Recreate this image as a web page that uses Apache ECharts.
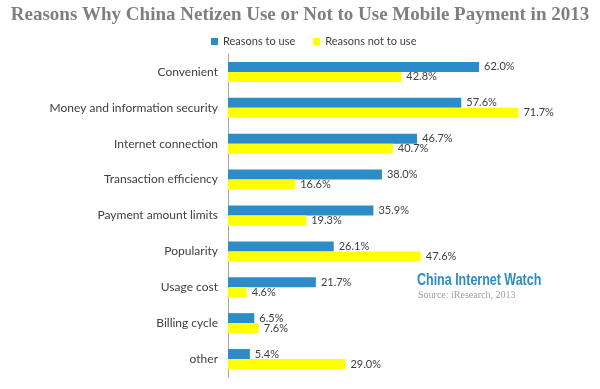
<!DOCTYPE html>
<html><head><meta charset="utf-8">
<script src="https://cdn.jsdelivr.net/npm/echarts@6/dist/echarts.min.js"></script>
<style>html,body{margin:0;padding:0;background:#fff}#c{width:600px;height:389px}</style>
</head><body><div id="c"></div>
<script>
const categories = ["Convenient","Money and information security","Internet connection","Transaction efficiency","Payment amount limits","Popularity","Usage cost","Billing cycle","other"];
const reasonsToUse = [62.0,57.6,46.7,38.0,35.9,26.1,21.7,6.5,5.4];
const reasonsNotToUse = [42.8,71.7,40.7,16.6,19.3,47.6,4.6,7.6,29.0];
const seriesNames = ["Reasons to use","Reasons not to use"];

const chart = echarts.init(document.getElementById('c'));
const lbl = {show:true,position:'right',distance:5,color:'#404040',fontSize:11,fontFamily:'Lato, "Noto Sans", sans-serif',formatter:p=>p.value.toFixed(1)+'%'};
chart.setOption({
  animation:false,
  title:{text:'Reasons Why China Netizen Use or Not to Use Mobile Payment in 2013',left:'center',top:1,
    textStyle:{fontFamily:'"Liberation Serif", serif',fontWeight:'bold',fontSize:19,color:'#7f7f7f'}},
  legend:{top:31,left:206,itemWidth:7,itemHeight:7,itemGap:18,icon:'rect',
    textStyle:{fontSize:11,color:'#404040',fontFamily:'Lato, "Noto Sans", sans-serif'},data:seriesNames},
  grid:{left:228,right:48,top:54,bottom:12,containLabel:false},
  xAxis:{type:'value',min:0,max:80,show:false},
  yAxis:{type:'category',inverse:true,data:categories,
    axisLine:{lineStyle:{color:'#a6a6a6'}},axisTick:{length:5,lineStyle:{color:'#a6a6a6'}},
    axisLabel:{color:'#404040',fontSize:12,margin:10,fontFamily:'Lato, "Noto Sans", sans-serif'}},
  series:[
    {name:seriesNames[0],type:'bar',data:reasonsToUse,barWidth:10,barGap:'0%',itemStyle:{color:'#2b8cc8'},label:lbl},
    {name:seriesNames[1],type:'bar',data:reasonsNotToUse,barWidth:10,barGap:'0%',itemStyle:{color:'#ffff00'},label:lbl}
  ],
  graphic:[
    {type:'text',x:417,y:273,scaleX:0.78,style:{text:'China Internet Watch',fill:'#2b8cc8',font:'bold 16px "Liberation Sans", sans-serif'}},
    {type:'text',left:418,top:290,style:{text:'Source: iResearch, 2013',fill:'#a0a0a0',font:'10px "Liberation Serif", serif'}}
  ]
});
</script></body></html>
